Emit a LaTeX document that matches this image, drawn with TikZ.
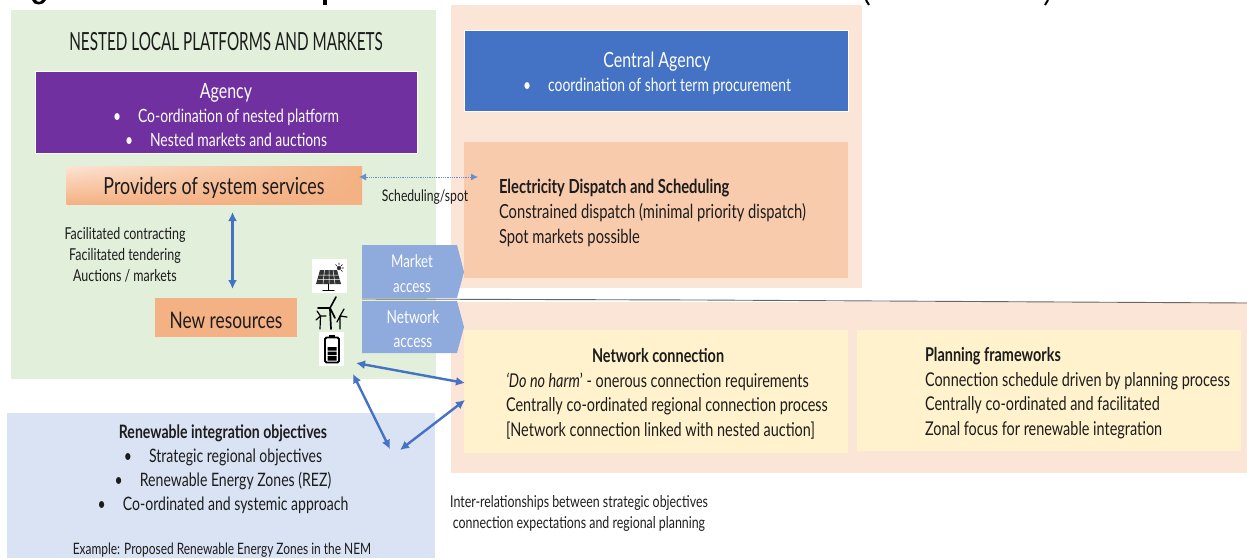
\documentclass[tikz,border=0pt]{standalone}
\usepackage{fontspec}
\setmainfont[FakeStretch=0.76]{Lato}
\newfontfamily\headfont[FakeStretch=0.61]{Lato}
\usetikzlibrary{arrows.meta,shadings}
\definecolor{ink}{HTML}{1C1C1C}
\definecolor{greenbg}{HTML}{E2EFDA}
\definecolor{peachbg}{HTML}{FBE5D6}
\definecolor{peachbox}{HTML}{F8CBAD}
\definecolor{orangebox}{HTML}{F4B183}
\definecolor{orangelight}{HTML}{FCE4D3}
\definecolor{bluebox}{HTML}{4472C4}
\definecolor{purplebox}{HTML}{7030A0}
\definecolor{yellowbox}{HTML}{FFF2CC}
\definecolor{lilacbg}{HTML}{DAE3F3}
\definecolor{accessblue}{HTML}{8FAADC}
\newcommand{\fs}[1]{\fontsize{#1}{#1}\selectfont}
\newcommand{\bul}[1]{\textbullet\hspace{17pt}#1}
\tikzset{
  x=1pt,y=-1pt,
  area/.style={anchor=north west,inner sep=0pt,outer sep=0pt,draw=none},
  txt/.style={inner sep=0pt,outer sep=0pt,text=ink,align=center},
  whitetxt/.style={txt,text=white},
  link/.style={draw=bluebox,line width=2.4pt,{Latex[length=9pt,width=9pt]}-{Latex[length=9pt,width=9pt]}},
  spotlink/.style={draw=bluebox!80,line width=0.8pt,densely dotted,{Latex[length=7pt,width=7pt]}-{Latex[length=7pt,width=7pt]}},
  iconink/.style={draw=black,line cap=round},
}
\newcommand{\area}[6]{\node[area,fill=#6,minimum width=#3-#1,minimum height=#4-#2] (#5) at (#1,#2) {};}
\begin{document}
\begin{tikzpicture}
\useasboundingbox (0,0) rectangle (1247,558);
% cut off caption descenders
\fill[black] (32,0) .. controls (33,6) and (44,6) .. (46,0) -- (42,0) .. controls (41,2.5) and (37,2.5) .. (36,0) -- cycle;
\fill[black] (323,0) rectangle (327,5);
\draw[black,line width=2pt] (866,0) -- (869,5);
\draw[black,line width=2pt] (1048,0) -- (1045,5);
% backgrounds
\area{11}{10}{436}{379}{greenarea}{greenbg}
\area{451}{5}{862}{288}{upperarea}{peachbg}
\area{451}{302}{1247}{473}{lowerarea}{peachbg}
\area{7}{413}{435}{558}{lilacarea}{lilacbg}
% boxes
\node[area,fill=purplebox,draw=white,line width=0.5pt,minimum width=382,minimum height=82] (agency) at (35,71) {};
\node[area,fill=bluebox,draw=white,line width=0.5pt,minimum width=384,minimum height=81] (central) at (464,30) {};
\area{464}{142}{848}{278}{dispatch}{peachbox}
\area{464}{330}{848}{453}{netconn}{yellowbox}
\area{857}{330}{1241}{451}{planning}{yellowbox}
\shade[lower left=orangebox,lower right=orangebox,upper right=orangebox,upper left=orangelight,shading=bilinear interpolation] (66.5,166) rectangle (362,204);
\area{155}{298}{297}{337}{newres}{orangebox}
% access arrows
\fill[accessblue] (362,245) -- (457,245) -- (464,272) -- (457,298) -- (362,298) -- cycle;
\fill[accessblue] (362,301) -- (457,301) -- (464,327) -- (457,353) -- (362,353) -- cycle;
\draw[black!60,line width=0.9pt] (362,299) -- (700,300) -- (1247,303);
% texts
\node[txt,font=\headfont\fs{25}] (t1) at (226,42) {NESTED LOCAL PLATFORMS AND MARKETS};
\node[whitetxt,font=\fs{18.3}] (t2) at (226,115) {{\fs{21}Agency}\\[5.7pt]\bul{Co-ordination of nested platform}\\[5.7pt]\bul{Nested markets and auctions}};
\node[whitetxt,font=\fs{18.3}] (t3) at (657,73) {{\fs{21}Central Agency}\\[5.7pt]\bul{coordination of short term procurement}};
\node[txt,font=\fs{23.5}] (t4) at (214,188) {Providers of system services};
\node[txt,font=\fs{16.4}] (t5) at (125,255) {Facilitated contracting\\[4.6pt]Facilitated tendering\\[4.6pt]Auctions / markets};
\node[txt,font=\fs{22.8}] (t6) at (226,320) {New resources};
\node[txt,font=\fs{16}] (t7) at (425,197) {Scheduling/spot};
\node[whitetxt,font=\fs{17.5}] (t8) at (412,273.5) {Market\\[7pt]access};
\node[whitetxt,font=\fs{18}] (t9) at (413,329) {Network\\[6.5pt]access};
\node[txt,font=\fs{19.4},anchor=west,align=left] (t10) at (499,213) {\textbf{Electricity Dispatch and Scheduling}\\[5.6pt]Constrained dispatch (minimal priority dispatch)\\[5.6pt]Spot markets possible};
\node[txt,font=\fs{19},anchor=west,align=left] (t11) at (506,394) {\hspace*{86pt}\textbf{Network connection}\\[5.5pt]\textit{‘Do no harm}’ - onerous connection requirements\\[5.5pt]Centrally co-ordinated regional connection process\\[5.5pt][Network connection linked with nested auction]};
\node[txt,font=\fs{19},anchor=west,align=left] (t12) at (925,393) {\textbf{Planning frameworks}\\[5.5pt]Connection schedule driven by planning process\\[5.5pt]Centrally co-ordinated and facilitated\\[5.5pt]Zonal focus for renewable integration};
\node[txt,font=\fs{18.5}] (t13) at (223,469) {\textbf{Renewable integration objectives}\\[5.5pt]\bul{Strategic regional objectives}\\[5.5pt]\bul{Renewable Energy Zones (REZ)}\\[5.5pt]\bul{Co-ordinated and systemic approach}};
\node[txt,font=\fs{15.7}] (t14) at (222,550) {Example: Proposed Renewable Energy Zones in the NEM};
\node[txt,font=\fs{16.3}] (t15) at (579,513) {Inter-relationships between strategic objectives\\[4.7pt]connection expectations and regional planning};
% connectors
\coordinate (vA) at (232.5,212); \coordinate (vB) at (232.5,289);
\coordinate (dA) at (359,177); \coordinate (dB) at (478,177);
\coordinate (aA) at (356,363); \coordinate (aB) at (465,383);
\coordinate (bA) at (353,374); \coordinate (bB) at (390,449);
\coordinate (cA) at (400,450); \coordinate (cB) at (465,400);
\draw[link] (vA) -- (vB);
\draw[spotlink] (dA) -- (dB);
\draw[link] (aA) -- (aB);
\draw[link] (bA) -- (bB);
\draw[link] (cA) -- (cB);
% solar icon
\fill[white] (312,259) rectangle (347,293);
\fill[black!80] (320,270) -- (337,270) -- (341,284) -- (316,284) -- cycle;
\draw[white,line width=0.5pt] (324.5,270) -- (323,284) (329,270) -- (329,284) (333,270) -- (335,284) (318.5,275) -- (339,275) (317.5,279.5) -- (340,279.5);
\draw[iconink,line width=1.2pt] (328.5,284) -- (328.5,290) (323,290.5) -- (334,290.5);
\fill[black!80] (339,268) circle (2.2);
\draw[iconink,line width=0.6pt] (339,263) -- (339,264.5) (343.5,268) -- (342,268) (342.5,264.5) -- (341.2,265.8) (335.5,264.5) -- (336.8,265.8) (342.5,271.5) -- (341.2,270.2);
% wind icon
\draw[iconink,line width=1.7pt] (330,309) -- (331,329);
\draw[iconink,line width=1.6pt] (330,308) -- (336,297) (330,308) -- (318,308) (330,308) -- (335,318);
\draw[iconink,line width=1.2pt] (320.5,316) -- (320,329) (320.5,316) -- (317,311) (320.5,316) -- (316,320) (320.5,316) -- (326,316);
\draw[iconink,line width=1.2pt] (340,316) -- (340,329) (340,316) -- (344,309) (340,316) -- (347,317) (340,316) -- (337,322);
% battery icon
\fill[white] (319,332) rectangle (344,366);
\draw[iconink,line width=1.8pt,rounded corners=1.5pt] (325,337.5) rectangle (339,362.5);
\fill[black] (329,335) rectangle (335,337.5);
\fill[black] (327.5,347) rectangle (336.5,350.5) (327.5,351.5) rectangle (336.5,355) (327.5,356) rectangle (336.5,360.5);
\end{tikzpicture}
\end{document}
